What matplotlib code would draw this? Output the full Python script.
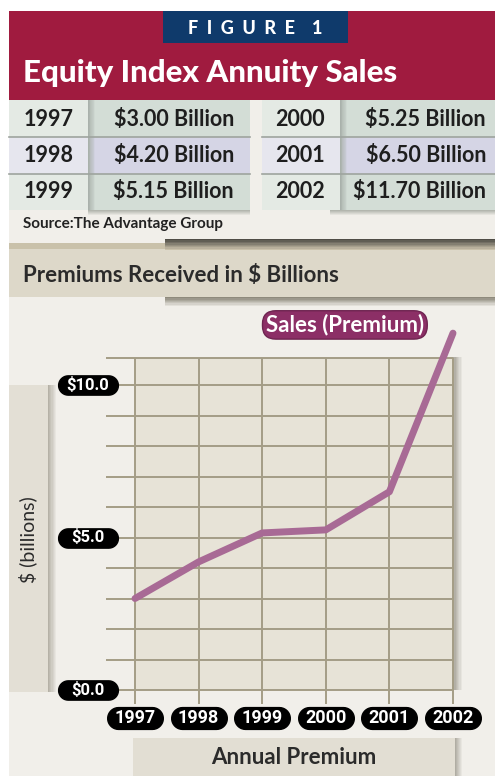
import numpy as np
import matplotlib
matplotlib.use('Agg')
import matplotlib.pyplot as plt
import matplotlib.colors as mcolors
from matplotlib.patches import Rectangle
from matplotlib.path import Path

# data
years = [1997, 1998, 1999, 2000, 2001, 2002]
sales = [3.00, 4.20, 5.15, 5.25, 6.50, 11.70]
year_labels = ['1997', '1998', '1999', '2000', '2001', '2002']
ytick_vals = [0, 5, 10]
ytick_labels = ['$0.0', '$5.0', '$10.0']
table_left = [(1997, '$3.00 Billion'), (1998, '$4.20 Billion'), (1999, '$5.15 Billion')]
table_right = [(2000, '$5.25 Billion'), (2001, '$6.50 Billion'), (2002, '$11.70 Billion')]
grid_top = 10.9

plt.rcParams['font.family'] = ['Lato', 'DejaVu Sans']
plt.rcParams['text.parse_math'] = False

W, H = 495, 776
fig = plt.figure(figsize=(W / 100, H / 100), dpi=100)
fig.patch.set_facecolor('white')

# background / decoration layer in pixel coords
bg = fig.add_axes([0, 0, 1, 1])
bg.set_xlim(0, W)
bg.set_ylim(H, 0)
bg.axis('off')


def box(x0, y0, x1, y1, color, z=1):
    bg.add_patch(Rectangle((x0, y0), x1 - x0, y1 - y0, fc=color, ec='none', zorder=z))


def shade(x0, y0, x1, y1, c0, c1, vertical=False, n=10, z=2):
    a = np.array(mcolors.to_rgb(c0))
    b = np.array(mcolors.to_rgb(c1))
    for i in range(n):
        t = i / (n - 1)
        col = a * (1 - t) + b * t
        if vertical:
            h = (y1 - y0) / n
            box(x0, y0 + i * h, x1, y0 + (i + 1) * h + 0.3, col, z)
        else:
            w = (x1 - x0) / n
            box(x0 + i * w, y0, x0 + (i + 1) * w + 0.3, y1, col, z)


BG = '#f1efea'
box(9, 11, W, H, BG, 0)

# header
box(9, 11, W, 100, '#a01b3f')
box(163, 11, 348, 43, '#0f3a6b', 2)
bg.text(255, 28, 'F  I  G  U  R  E    1', color='white', fontsize=13, fontweight='black',
        ha='center', va='center', zorder=3)
bg.text(23, 82, 'Equity Index Annuity Sales', color='white', fontsize=22.5,
        fontweight='black', ha='left', va='baseline', zorder=3)

# table
rows = [100, 137, 174, 210]
year_cols = ['#e4eae4', '#e6e6ee', '#e4eae4']
val_cols = ['#d3ddd6', '#d5d5e5', '#d3ddd6']
for i in range(3):
    y0, y1 = rows[i], rows[i + 1]
    box(9, y0, 88, y1, year_cols[i])
    box(88, y0, 250, y1, val_cols[i])
    box(262, y0, 340, y1, year_cols[i])
    box(340, y0, W, y1, val_cols[i])
    shade(88, y0, 96, y1, '#a9b1ab', val_cols[i], z=2)
    shade(340, y0, 348, y1, '#a9b1ab', val_cols[i], z=2)
for y in rows[1:3]:
    bg.plot([9, 250], [y, y], color='#9ea49e', lw=1.2, zorder=3)
    bg.plot([262, W], [y, y], color='#9ea49e', lw=1.2, zorder=3)
shade(88, 210, 250, 216, '#b3b6ae', BG, vertical=True, n=6)
shade(330, 210, W, 216, '#b3b6ae', BG, vertical=True, n=6)

row_y = [119, 155, 191]
for (yr, val), ty in zip(table_left, row_y):
    bg.text(49, ty, str(yr), fontsize=15.5, fontweight='bold', color='#1e1e1e',
            ha='center', va='center', zorder=4)
    bg.text(234, ty, val, fontsize=15.5, fontweight='bold', color='#1e1e1e',
            ha='right', va='center', zorder=4)
for (yr, val), ty in zip(table_right, row_y):
    bg.text(300, ty, str(yr), fontsize=15.5, fontweight='bold', color='#1e1e1e',
            ha='center', va='center', zorder=4)
    bg.text(486, ty, val, fontsize=15.5, fontweight='bold', color='#1e1e1e',
            ha='right', va='center', zorder=4)

bg.text(23, 224, 'Source:The Advantage Group', fontsize=11, fontweight='bold',
        color='#222222', ha='left', va='center', zorder=4)

# subtitle band
box(9, 243, W, 297, '#ddd8c9')
box(9, 243, W, 249, '#c9c1aa', 2)
shade(165, 239, W, 250, '#4f4d46', '#c9c1aa', vertical=True, n=8, z=3)
shade(165, 297, W, 307, '#8e8a7c', BG, vertical=True, n=8, z=3)
bg.text(23, 275, 'Premiums Received in $ Billions', fontsize=16, fontweight='bold',
        color='#2b2b2b', ha='left', va='center', zorder=4)

# left axis panel
box(9, 385, 50, 692, '#e3dfd5')
shade(48, 385, 57, 692, '#b5b1a6', BG, n=8)
bg.text(28, 540, '$ (billions)', rotation=90, fontsize=14, color='#2b2b2b',
        ha='center', va='center', zorder=4)

# right shadow of plot
shade(453, 357, 463, 690, '#a9a69c', BG, n=8)

# x axis title box
box(133, 738, 455, 776, '#e2ded3')
shade(455, 738, 463, 776, '#b0ada3', BG, n=8)
bg.text(294, 757, 'Annual Premium', fontsize=16, fontweight='bold', color='#2b2b2b',
        ha='center', va='center', zorder=4)

# chart axes
x_lo, x_hi, y_lo, y_hi = 1996.3, 2002.4, -1.3, 11.9
px_year, px_unit = 63.6, 30.5
left = 135 - (1997 - x_lo) * px_year
right = 135 + (x_hi - 1997) * px_year
top = 690 - y_hi * px_unit
bottom = 690 - y_lo * px_unit
ax = fig.add_axes([left / W, (H - bottom) / H, (right - left) / W, (bottom - top) / H])
ax.set_xlim(x_lo, x_hi)
ax.set_ylim(y_lo, y_hi)
ax.axis('off')
ax.patch.set_alpha(0)

ax.add_patch(Rectangle((years[0], 0), years[-1] - years[0], grid_top,
                       fc='#e7e3d7', ec='none', zorder=0))
grid_c = '#a49d86'
ax.hlines(list(range(0, 11)) + [grid_top], 1996.544, years[-1], color=grid_c, lw=1.4, zorder=1)
ax.vlines(years, -0.45, grid_top, color=grid_c, lw=1.4, zorder=1)

ax.plot(years, sales, color='#a86a95', lw=5, solid_capstyle='round',
        solid_joinstyle='round', zorder=3, clip_on=False)


def pill(ratio):
    r = 0.5
    c = ratio / 2 - r
    t1 = np.linspace(np.pi / 2, 3 * np.pi / 2, 20)
    t2 = np.linspace(-np.pi / 2, np.pi / 2, 20)
    pts = np.vstack([np.column_stack([-c + r * np.cos(t1), r * np.sin(t1)]),
                     np.column_stack([c + r * np.cos(t2), r * np.sin(t2)])])
    pts = np.vstack([pts, pts[:1]])
    codes = [Path.MOVETO] + [Path.LINETO] * (len(pts) - 2) + [Path.CLOSEPOLY]
    return Path(pts, codes)


pill_font = ['Liberation Sans Narrow', 'Roboto', 'DejaVu Sans']
x_lab_y = -0.92
ax.plot(years, [x_lab_y] * len(years), linestyle='none', marker=pill(2.55),
        markersize=40, color='black', zorder=4, clip_on=False)
for yr, lab in zip(years, year_labels):
    ax.text(yr, x_lab_y, lab, color='white', fontsize=13, fontweight='bold',
            family=pill_font, ha='center', va='center', zorder=5)

y_lab_x = 1996.26
ax.plot([y_lab_x] * len(ytick_vals), ytick_vals, linestyle='none', marker=pill(3.1),
        markersize=43, color='black', zorder=4, clip_on=False)
for v, lab in zip(ytick_vals, ytick_labels):
    ax.text(y_lab_x, v, lab, color='white', fontsize=12, fontweight='bold',
            family=pill_font, ha='center', va='center', zorder=5)

# series label
ax.text(2000.30, 11.97, 'Sales (Premium)', color='white', fontsize=16, fontweight='bold',
        ha='center', va='center', zorder=5, clip_on=False,
        bbox=dict(boxstyle='round,pad=0.15,rounding_size=0.6', fc='#8c2f66', ec='#6e2450', lw=1))

fig.savefig('out.png', dpi=100)
